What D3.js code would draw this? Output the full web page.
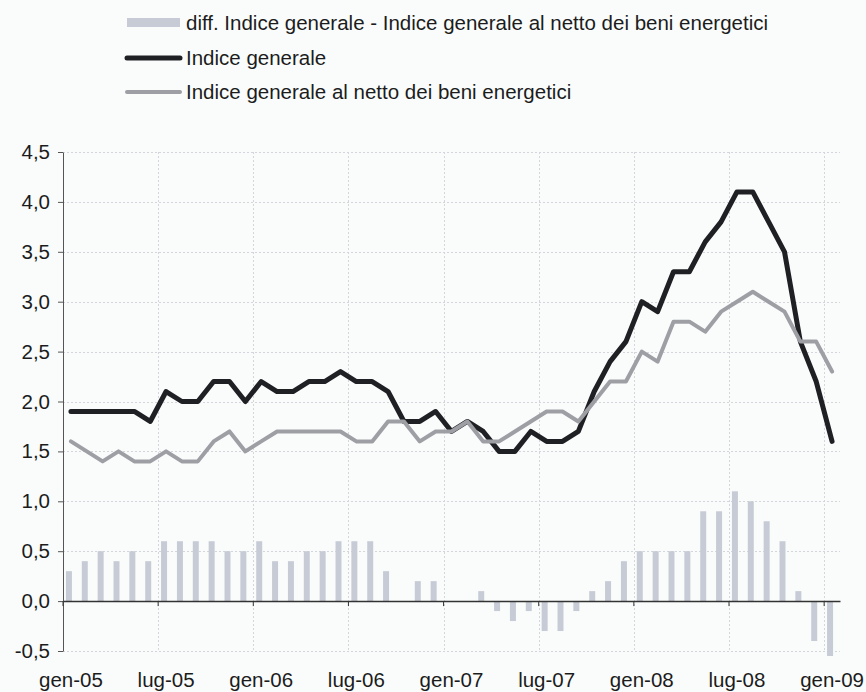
<!DOCTYPE html>
<html>
<head>
<meta charset="utf-8">
<script src="https://cdn.jsdelivr.net/npm/d3@7"></script>
<style>
  html, body { margin: 0; padding: 0; background: #fafcfc; }
  svg { display: block; }
  text { font-family: "Liberation Sans", Arial, sans-serif; fill: #1c1c1c; }
</style>
</head>
<body>
<svg id="chart" width="866" height="692"></svg>
<script>
// ---------- DATA ----------
const categories = [
  "gen-05","feb-05","mar-05","apr-05","mag-05","giu-05","lug-05","ago-05","set-05","ott-05","nov-05","dic-05",
  "gen-06","feb-06","mar-06","apr-06","mag-06","giu-06","lug-06","ago-06","set-06","ott-06","nov-06","dic-06",
  "gen-07","feb-07","mar-07","apr-07","mag-07","giu-07","lug-07","ago-07","set-07","ott-07","nov-07","dic-07",
  "gen-08","feb-08","mar-08","apr-08","mag-08","giu-08","lug-08","ago-08","set-08","ott-08","nov-08","dic-08",
  "gen-09"
];
const indiceGenerale = [
  1.9,1.9,1.9,1.9,1.9,1.8,2.1,2.0,2.0,2.2,2.2,2.0,
  2.2,2.1,2.1,2.2,2.2,2.3,2.2,2.2,2.1,1.8,1.8,1.9,
  1.7,1.8,1.7,1.5,1.5,1.7,1.6,1.6,1.7,2.1,2.4,2.6,
  3.0,2.9,3.3,3.3,3.6,3.8,4.1,4.1,3.8,3.5,2.6,2.2,
  1.6
];
const indiceNetto = [
  1.6,1.5,1.4,1.5,1.4,1.4,1.5,1.4,1.4,1.6,1.7,1.5,
  1.6,1.7,1.7,1.7,1.7,1.7,1.6,1.6,1.8,1.8,1.6,1.7,
  1.7,1.8,1.6,1.6,1.7,1.8,1.9,1.9,1.8,2.0,2.2,2.2,
  2.5,2.4,2.8,2.8,2.7,2.9,3.0,3.1,3.0,2.9,2.6,2.6,
  2.3
];
const differenza = [
  0.3,0.4,0.5,0.4,0.5,0.4,0.6,0.6,0.6,0.6,0.5,0.5,
  0.6,0.4,0.4,0.5,0.5,0.6,0.6,0.6,0.3,0.0,0.2,0.2,
  0.0,0.0,0.1,-0.1,-0.2,-0.1,-0.3,-0.3,-0.1,0.1,0.2,0.4,
  0.5,0.5,0.5,0.5,0.9,0.9,1.1,1.0,0.8,0.6,0.1,-0.4,
  -0.55
];
const xTickLabels = ["gen-05","lug-05","gen-06","lug-06","gen-07","lug-07","gen-08","lug-08","gen-09"];
const yTicks = [-0.5,0,0.5,1,1.5,2,2.5,3,3.5,4,4.5];
const legendNames = [
  "diff. Indice generale - Indice generale al netto dei beni energetici",
  "Indice generale",
  "Indice generale al netto dei beni energetici"
];

// ---------- STYLE ----------
const colBar = "#c7cbd5", colBlack = "#1f2023", colGray = "#9d9fa4";
const fontSize = 20.5;

const svg = d3.select("#chart");
const plotL = 63, plotR = 840, plotT = 152, plotB = 651;

const x = d3.scaleBand().domain(categories).range([plotL, plotR]).padding(0);
const bw = x.bandwidth();
const cx = c => x(c) + bw / 2;
const y = d3.scaleLinear().domain([-0.5, 4.5]).range([plotB, plotT]);

const itLocale = d3.formatLocale({decimal: ",", thousands: ".", grouping: [3], currency: ["", "€"], minus: "-"});
const fmt = itLocale.format(".1f");

// gridlines
const grid = svg.append("g").attr("stroke", "#d3d7db").attr("stroke-width", 1).attr("stroke-dasharray", "2,2");
grid.selectAll("line.h").data(yTicks).join("line")
  .attr("x1", plotL).attr("x2", plotR)
  .attr("y1", d => Math.round(y(d)) + 0.5).attr("y2", d => Math.round(y(d)) + 0.5);
grid.selectAll("line.v").data(xTickLabels.slice(1)).join("line")
  .attr("x1", d => Math.round(x(d)) + 0.5).attr("x2", d => Math.round(x(d)) + 0.5)
  .attr("y1", plotT).attr("y2", plotB);

// bars
svg.append("g").selectAll("rect").data(categories).join("rect")
  .attr("x", (c) => cx(c) - 5)
  .attr("width", 6)
  .attr("y", (c, i) => Math.min(y(differenza[i]), y(0)))
  .attr("height", (c, i) => Math.abs(y(differenza[i]) - y(0)))
  .attr("fill", colBar);

// y axis
const yAxis = svg.append("g").attr("transform", `translate(${plotL},0)`)
  .call(d3.axisLeft(y).tickValues(yTicks).tickFormat(fmt).tickSize(5).tickPadding(8).tickSizeOuter(0));
yAxis.select(".domain").attr("stroke", "#555");
yAxis.selectAll(".tick line").attr("stroke", "#555");
yAxis.selectAll("text").style("font-size", fontSize + "px").attr("fill", "#1c1c1c")
  .attr("font-family", "Liberation Sans, Arial, sans-serif");

// x axis line at zero with ticks at category boundaries
const xAxis = svg.append("g").attr("transform", `translate(0,${y(0)})`)
  .call(d3.axisBottom(x).tickValues(xTickLabels).tickFormat("").tickSize(5).tickSizeOuter(0));
xAxis.select(".domain").attr("stroke", "#333").attr("stroke-width", 1.5);
xAxis.selectAll(".tick line").attr("stroke", "#333").attr("x1", -bw / 2).attr("x2", -bw / 2);

// x labels (low position)
const xLab = svg.append("g").attr("transform", `translate(0,${plotB})`)
  .call(d3.axisBottom(x).tickValues(xTickLabels).tickSize(0).tickPadding(21));
xLab.select(".domain").remove();
xLab.selectAll("text").style("font-size", fontSize + "px").attr("fill", "#1c1c1c")
  .attr("font-family", "Liberation Sans, Arial, sans-serif");

// lines
const lineGen = arr => d3.line().x((c) => cx(c)).y((c, i) => y(arr[i]))(categories);
svg.append("path").attr("d", lineGen(indiceGenerale)).attr("fill", "none")
  .attr("stroke", colBlack).attr("stroke-width", 5).attr("stroke-linejoin", "round").attr("stroke-linecap", "round");
svg.append("path").attr("d", lineGen(indiceNetto)).attr("fill", "none")
  .attr("stroke", colGray).attr("stroke-width", 4).attr("stroke-linejoin", "round").attr("stroke-linecap", "round");

// legend
const lg = svg.append("g");
const rows = [22.5, 58, 92];
lg.append("rect").attr("x", 127).attr("y", rows[0] - 4.5).attr("width", 53).attr("height", 9).attr("fill", colBar);
lg.append("line").attr("x1", 127).attr("x2", 180).attr("y1", rows[1]).attr("y2", rows[1])
  .attr("stroke", colBlack).attr("stroke-width", 5).attr("stroke-linecap", "round");
lg.append("line").attr("x1", 127).attr("x2", 180).attr("y1", rows[2]).attr("y2", rows[2])
  .attr("stroke", colGray).attr("stroke-width", 4).attr("stroke-linecap", "round");
lg.selectAll("text").data(legendNames).join("text")
  .attr("x", 186).attr("y", (d, i) => rows[i]).attr("dy", "0.35em")
  .style("font-size", fontSize + "px").text(d => d);
</script>
</body>
</html>
